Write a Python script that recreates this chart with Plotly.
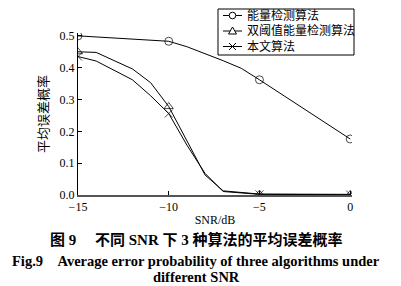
import plotly.graph_objects as go

snr_energy = [-15, -10, -9, -8, -7, -6, -5, 0]
pe_energy = [0.500, 0.483, 0.466, 0.445, 0.422, 0.398, 0.362, 0.176]

snr_dual = [-15, -14, -12, -11, -10, -9, -8, -7, -5, 0]
pe_dual = [0.450, 0.448, 0.396, 0.353, 0.278, 0.173, 0.063, 0.013, 0.003, 0.002]

snr_ours = [-15, -14, -12, -11, -10, -9, -8, -7, -5, 0]
pe_ours = [0.435, 0.421, 0.362, 0.312, 0.256, 0.157, 0.068, 0.011, 0.002, 0.001]

marker_snr = [-15, -10, -5, 0]

names = ["能量检测算法", "双阈值能量检测算法", "本文算法"]
symbols = ["circle-open", "triangle-up-open", "x-thin-open"]

FONT = "Liberation Serif, Times New Roman, Noto Sans CJK SC, serif"

W, H = 401, 286
ML, MR, MT, MB = 78, 49, 33, 91
PW, PH = W - ML - MR, H - MT - MB


def px(x):
    return (x - ML) / PW


def py(y):
    return (H - MB - y) / PH


fig = go.Figure()
for xs, ys, name, sym in [(snr_energy, pe_energy, names[0], symbols[0]),
                          (snr_dual, pe_dual, names[1], symbols[1]),
                          (snr_ours, pe_ours, names[2], symbols[2])]:
    sizes = [8 if x in marker_snr else 0 for x in xs]
    fig.add_trace(go.Scatter(
        x=xs, y=ys, mode="lines+markers", name=name, showlegend=False,
        line=dict(color="black", width=1),
        marker=dict(symbol=sym, size=sizes, color="black",
                    line=dict(color="black", width=1)),
    ))

# custom compact legend (paper coordinates)
shapes = [dict(type="rect", xref="paper", yref="paper",
               x0=px(218), x1=px(354), y0=py(55), y1=py(9),
               line=dict(color="black", width=1), fillcolor="white", layer="above")]
rows = [15.5, 31, 46.5]
for i, (name, yc) in enumerate(zip(names, rows)):
    shapes.append(dict(type="line", xref="paper", yref="paper",
                       x0=px(223), x1=px(242), y0=py(yc), y1=py(yc),
                       line=dict(color="black", width=1), layer="above"))
    cx = 232.5
    r = 3.3
    if i == 0:
        shapes.append(dict(type="circle", xref="paper", yref="paper",
                           x0=px(cx - r), x1=px(cx + r), y0=py(yc + r), y1=py(yc - r),
                           line=dict(color="black", width=1), fillcolor="white", layer="above"))
    elif i == 1:
        path = "M {} {} L {} {} L {} {} Z".format(
            px(cx - 4), py(yc + 3), px(cx + 4), py(yc + 3), px(cx), py(yc - 4))
        shapes.append(dict(type="path", xref="paper", yref="paper", path=path,
                           line=dict(color="black", width=1), fillcolor="white", layer="above"))
    else:
        path = "M {} {} L {} {} M {} {} L {} {}".format(
            px(cx - 3.5), py(yc - 3.5), px(cx + 3.5), py(yc + 3.5),
            px(cx - 3.5), py(yc + 3.5), px(cx + 3.5), py(yc - 3.5))
        shapes.append(dict(type="path", xref="paper", yref="paper", path=path,
                           line=dict(color="black", width=1), layer="above"))
    fig.add_annotation(text=name, x=px(245), y=py(yc), xref="paper", yref="paper",
                       showarrow=False, xanchor="left", yanchor="middle",
                       font=dict(size=12, family=FONT, color="black"))

fig.update_layout(
    width=W, height=H,
    margin=dict(l=ML, r=MR, t=MT, b=MB),
    paper_bgcolor="white", plot_bgcolor="white",
    font=dict(family=FONT, size=12, color="black"),
    showlegend=False,
    shapes=shapes,
    xaxis=dict(range=[-15, 0.1], tickvals=[-15, -10, -5, 0],
               ticktext=["\u221215", "\u221210", "\u22125", "0"],
               showgrid=False, zeroline=False, showline=True,
               linecolor="#555", linewidth=1.5, ticks="inside", ticklen=4,
               tickcolor="black", tickfont=dict(size=12),
               title=dict(text="SNR/dB", font=dict(size=12), standoff=2)),
    yaxis=dict(range=[0, 0.509], tickvals=[0, 0.1, 0.2, 0.3, 0.4, 0.5],
               tickformat=".1f", showgrid=False, zeroline=False,
               showline=True, linecolor="black", linewidth=1,
               ticks="inside", ticklen=4, tickcolor="black",
               tickfont=dict(size=12),
               title=dict(text="平均误差概率", font=dict(size=13), standoff=8)),
)

captions = [
    ("图 9　 不同 SNR 下 3 种算法的平均误差概率", 240, 15),
    ("Fig.9　Average error probability of three algorithms under", 260.5, 14.5),
    ("different SNR", 277, 14.5),
]
for text, y, sz in captions:
    fig.add_annotation(text="<b>" + text + "</b>", x=px(196), y=py(y),
                       xref="paper", yref="paper", showarrow=False,
                       xanchor="center", yanchor="middle",
                       font=dict(size=sz, family=FONT, color="black"))

fig.write_html("out.html")
